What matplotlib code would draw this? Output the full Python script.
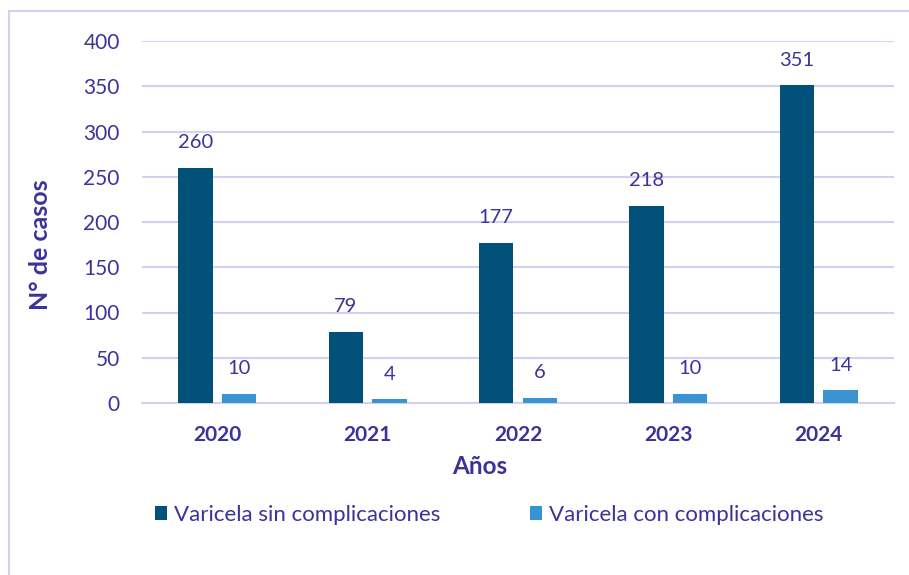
import matplotlib.pyplot as plt
import matplotlib.patches as mpatches
import numpy as np

# data
years = ["2020", "2021", "2022", "2023", "2024"]
sin_compl = [260, 79, 177, 218, 351]
con_compl = [10, 4, 6, 10, 14]
labels = ["Varicela sin complicaciones", "Varicela con complicaciones"]

txt_color = "#3B3399"
grid_color = "#D4D0F0"
dark = "#02517A"
light = "#3A94D2"

plt.rcParams["font.family"] = ["Lato", "DejaVu Sans"]

fig = plt.figure(figsize=(9.09, 5.75), dpi=100)
ax = fig.add_axes([142 / 909, 1 - 403 / 575, 752 / 909, 362 / 575])

# outer frame
fig.patches.append(mpatches.Rectangle((9 / 909, -0.1), 1.2, 1 - 11 / 575 + 0.1,
                                      transform=fig.transFigure, fill=False,
                                      edgecolor=grid_color, linewidth=1.5))

x = np.arange(len(years))
w = 0.228
b1 = ax.bar(x - 0.145, sin_compl, w, color=dark, label=labels[0], zorder=3)
b2 = ax.bar(x + 0.145, con_compl, w, color=light, label=labels[1], zorder=3)

for bars in (b1, b2):
    for r in bars:
        ax.annotate(f"{int(r.get_height())}", (r.get_x() + r.get_width() / 2, r.get_height()),
                    xytext=(0, 18), textcoords="offset points", ha="center", va="center",
                    fontsize=14.5, color=txt_color)

ax.set_xlim(-0.5, len(years) - 0.5)
ax.set_ylim(0, 400)
ax.set_yticks(range(0, 401, 50))
ax.set_xticks(x)
ax.set_xticklabels(years, fontweight="bold")
ax.tick_params(axis="both", length=0, labelsize=15, colors=txt_color)
ax.tick_params(axis="x", pad=16)
ax.tick_params(axis="y", pad=16)
ax.yaxis.grid(True, color=grid_color, linewidth=1.5, zorder=0)
for s in ["top", "right", "left"]:
    ax.spines[s].set_visible(False)
ax.spines["bottom"].set_color(grid_color)
ax.spines["bottom"].set_linewidth(1.5)

fig.text(480 / 909, 1 - 466 / 575, "Años", fontsize=17.5, fontweight="bold",
         color=txt_color, ha="center", va="center")
fig.text(40 / 909, 1 - 245 / 575, "N° de casos", fontsize=18, fontweight="bold",
         color=txt_color, ha="center", va="center", rotation=90)

for h, lab, xpos in [(b1, labels[0], 155), (b2, labels[1], 530)]:
    leg = fig.legend(handles=[h], labels=[lab], loc="center left",
                     bbox_to_anchor=(xpos / 909, 1 - 515 / 575), frameon=False,
                     fontsize=16, labelcolor=txt_color, handlelength=0.55, handleheight=0.55,
                     handletextpad=0.3, borderpad=0, borderaxespad=0)

fig.savefig("out.png", dpi=100)
